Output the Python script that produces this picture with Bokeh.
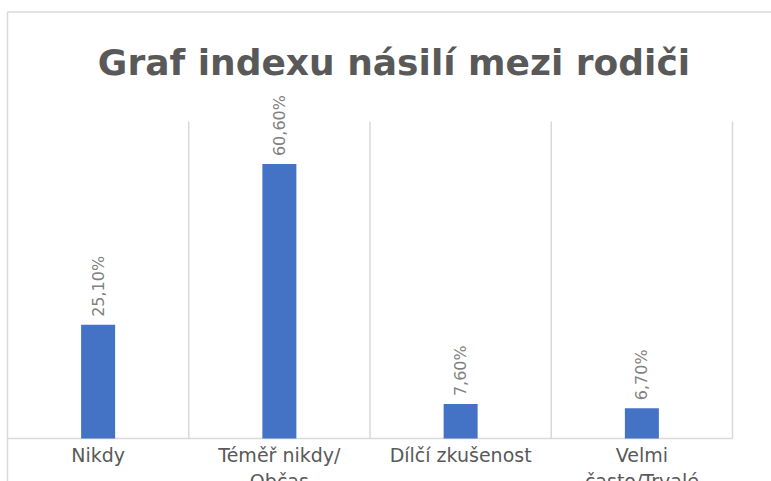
from bokeh.plotting import figure
from bokeh.models import Range1d, ColumnDataSource
from bokeh.core.properties import value
from bokeh.embed import file_html
from bokeh.resources import INLINE
import math

# ---- data ----
categories = ["Nikdy", "Téměř nikdy/\nObčas", "Dílčí zkušenost", "Velmi\nčasto/Trvalé"]
values = [0.251, 0.606, 0.076, 0.067]
title_text = "Graf indexu násilí mezi rodiči"
y_max = 0.70

# ---- layout (pixels within the figure) ----
W, H = 771, 481
left_px = 7.0
cat_px = 181.25          # width of one category
y0_px = 438.0            # px (from top) of value 0
top_px = 121.0           # px (from top) of y_max
ppu = (y0_px - top_px) / y_max
x_start = -left_px / cat_px
x_end = x_start + W / cat_px
y_top = y0_px / ppu
y_bot = -(H - y0_px) / ppu


def px_x(px):
    return x_start + px / cat_px


def px_y(py):
    return y_top - py / ppu


p = figure(width=W, height=H, output_backend="svg", toolbar_location=None,
           x_range=Range1d(x_start, x_end), y_range=Range1d(y_bot, y_top),
           min_border=0, min_border_left=0, min_border_right=0,
           min_border_top=0, min_border_bottom=0)
p.xaxis.visible = False
p.yaxis.visible = False
p.xgrid.visible = False
p.ygrid.visible = False
p.outline_line_color = None
p.background_fill_color = "white"
p.border_fill_color = "white"

n = len(categories)
xs = [i + 0.5 for i in range(n)]
labels = [f"{v*100:.2f}".replace(".", ",") + "%" for v in values]
src = ColumnDataSource(dict(x=xs, top=values, lab=labels, cat=categories))

grid_col = "#d9d9d9"
# chart border (top and left)
border_y = px_y(11.5)
p.segment(x0=[0, 0], y0=[border_y, border_y], x1=[x_end + 1, 0], y1=[border_y, y_bot - 1],
          line_color=grid_col, line_width=1.5)
# vertical category gridlines
p.segment(x0=list(range(1, n + 1)), y0=[0] * n, x1=list(range(1, n + 1)), y1=[y_max] * n,
          line_color=grid_col, line_width=1.5)
# baseline
p.segment(x0=[0], y0=[0], x1=[n], y1=[0], line_color=grid_col, line_width=1.5)

# bars
p.vbar(x="x", top="top", bottom=0, width=34 / cat_px, source=src,
       fill_color="#4472C4", line_color=None)

# data labels
p.text(x="x", y="top", text="lab", source=src, angle=math.pi / 2,
       text_align="left", text_baseline="middle", y_offset=-8,
       text_font=value("DejaVu Sans"), text_font_size="16px", text_color="#808080")

# category labels
p.text(x="x", y=0, text="cat", source=src, text_align="center", text_baseline="top",
       y_offset=5, text_font=value("DejaVu Sans"), text_font_size="19px", text_color="#595959",
       text_line_height=1.2)

# title
p.text(x=[px_x(393.5)], y=[px_y(62)], text=[title_text],
       text_align="center", text_baseline="middle",
       text_font=value("DejaVu Sans"), text_font_style="bold", text_font_size="36px",
       text_color="#595959")

open("out.html", "w").write(file_html(p, INLINE))
